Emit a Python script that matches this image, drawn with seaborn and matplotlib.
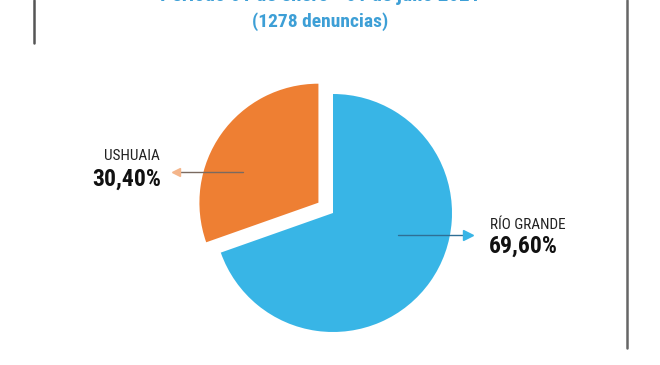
import matplotlib
matplotlib.use("Agg")
import matplotlib.pyplot as plt
import seaborn as sns
from matplotlib.lines import Line2D

# data
cities = ["RÍO GRANDE", "USHUAIA"]
shares = [69.60, 30.40]
total_reports = 1278
period = "Período 01 de enero - 01 de julio 2021"
colors = ["#38b5e6", "#ee7f33"]

sns.set_theme(style="white")
plt.rcParams["font.family"] = ["Roboto Condensed", "DejaVu Sans"]

W, H = 660, 365
fig = plt.figure(figsize=(W / 100, H / 100), dpi=100)
fig.patch.set_facecolor("white")


def fx(px):
    return px / W


def fy(py):
    return 1 - py / H


# pie: centre at (333, 213) px, radius 119 px
cx, cy, r = 333, 213, 119
ax = fig.add_axes([0, 0, 1, 1])
ax.pie(
    shares,
    colors=colors,
    startangle=90,
    counterclock=False,
    explode=[0, 0.15],
    wedgeprops=dict(linewidth=0),
)
ax.set_xlim(-cx / r, (W - cx) / r)
ax.set_ylim(-(H - cy) / r, cy / r)
ax.set_aspect("auto")
ax.axis("off")

# header (top line is cut off by the crop)
blue_txt = "#3d9fd6"
fig.text(fx(320), fy(5), period, ha="center", va="bottom", color=blue_txt,
         fontsize=15, fontweight="bold")
fig.text(fx(320), fy(22), f"({total_reports} denuncias)", ha="center", va="center",
         color=blue_txt, fontsize=14, fontweight="bold")

# frame lines
fig.add_artist(Line2D([fx(34), fx(34)], [fy(0), fy(43)], color="#555555", lw=1.8))
fig.add_artist(Line2D([fx(627), fx(627)], [fy(0), fy(348)], color="#666666", lw=1.8))

# Ushuaia label + arrow
fig.add_artist(Line2D([fx(176), fx(243)], [fy(172), fy(172)], color="#7a6a60", lw=1.0))
fig.add_artist(Line2D([fx(176)], [fy(172)], marker="<", markersize=6,
                      color="#f4b58a", linestyle="none"))
fig.text(fx(160), fy(156), cities[1], ha="right", va="center", fontsize=11,
         color="#222222")
fig.text(fx(161), fy(179), f"{shares[1]:.2f}%".replace(".", ","), ha="right",
         va="center", fontsize=17, fontweight="bold", color="#111111")

# Río Grande label + arrow
fig.add_artist(Line2D([fx(398), fx(466)], [fy(235), fy(235)], color="#2f6f95", lw=1.0))
fig.add_artist(Line2D([fx(468)], [fy(235)], marker=">", markersize=7,
                      color="#38b5e6", linestyle="none"))
fig.text(fx(490), fy(225), cities[0], ha="left", va="center", fontsize=11,
         color="#222222")
fig.text(fx(489), fy(246), f"{shares[0]:.2f}%".replace(".", ","), ha="left",
         va="center", fontsize=17, fontweight="bold", color="#111111")

fig.savefig("out.png", dpi=100, facecolor="white")
